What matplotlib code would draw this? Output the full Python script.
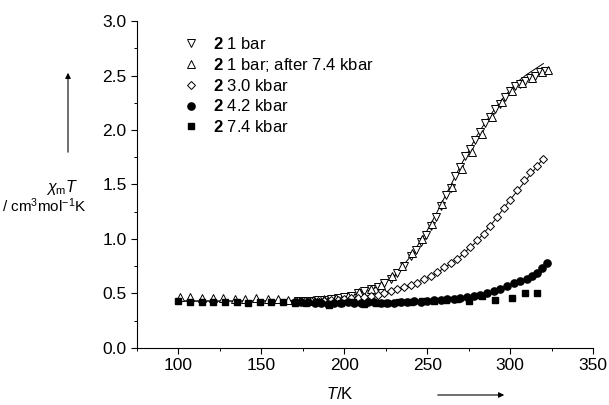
import matplotlib
matplotlib.use("Agg")
import matplotlib.pyplot as plt
from matplotlib.ticker import MultipleLocator

plt.rcParams['font.family'] = ['Liberation Sans', 'DejaVu Sans']
plt.rcParams['mathtext.fontset'] = 'custom'
plt.rcParams['mathtext.rm'] = 'Liberation Sans'
plt.rcParams['mathtext.it'] = 'Liberation Sans:italic'
plt.rcParams['mathtext.bf'] = 'Liberation Sans:bold'

# 2, 1 bar (cooling curve)
down_T = [172, 176, 180, 184, 188, 192, 196, 200, 204, 208, 212, 216, 220, 224, 228,
          232, 236, 240, 243, 246, 249, 252, 255, 258, 261, 264, 267, 270, 273, 276,
          279, 282, 285, 288, 291, 294, 297, 300, 303, 306, 309, 312, 315, 318, 321]
down_chi = [0.43, 0.43, 0.43, 0.44, 0.44, 0.45, 0.46, 0.47, 0.48, 0.50, 0.52, 0.54, 0.56, 0.60, 0.63,
            0.69, 0.75, 0.84, 0.90, 0.97, 1.04, 1.12, 1.20, 1.30, 1.40, 1.47, 1.58, 1.66, 1.76, 1.83,
            1.91, 1.98, 2.06, 2.12, 2.19, 2.24, 2.30, 2.36, 2.40, 2.42, 2.45, 2.48, 2.50, 2.53, 2.54]

# 2, 1 bar after 7.4 kbar
up_T = [101, 107, 114, 121, 127, 134, 140, 147, 154, 160, 166, 174, 181, 188, 195, 202, 209, 216,
        222, 229, 235, 241, 247, 253, 259, 265, 271, 277, 283, 289, 295, 301, 307, 313, 319, 323]
up_chi = [0.47, 0.47, 0.46, 0.46, 0.46, 0.45, 0.45, 0.46, 0.45, 0.45, 0.44, 0.43, 0.44, 0.45, 0.46,
          0.48, 0.51, 0.54, 0.58, 0.66, 0.75, 0.87, 1.00, 1.14, 1.32, 1.48, 1.64, 1.80, 1.96, 2.12,
          2.26, 2.36, 2.43, 2.48, 2.53, 2.55]

# 2, 3.0 kbar
dia_T = [172, 176, 180, 184, 188, 192, 196, 200, 204, 208, 212, 216, 220, 224, 228, 232, 236, 240, 244,
         248, 252, 256, 260, 264, 268, 272, 276, 280, 284, 288, 292, 296, 300, 304, 308, 312, 316, 320]
dia_chi = [0.43, 0.43, 0.43, 0.43, 0.43, 0.44, 0.44, 0.45, 0.46, 0.46, 0.47, 0.48, 0.49, 0.50, 0.52,
           0.54, 0.56, 0.58, 0.60, 0.63, 0.66, 0.70, 0.74, 0.78, 0.82, 0.87, 0.93, 0.99, 1.05, 1.12,
           1.20, 1.28, 1.36, 1.45, 1.54, 1.61, 1.67, 1.73]

# 2, 4.2 kbar
cir_T = [170, 174, 178, 182, 186, 190, 194, 198, 202, 206, 210, 214, 218, 222, 226, 230, 234, 238, 242,
         246, 250, 254, 258, 262, 266, 270, 274, 278, 282, 286, 290, 294, 298, 302, 306, 310, 313, 316,
         319, 322]
cir_chi = [0.42, 0.42, 0.42, 0.41, 0.41, 0.40, 0.41, 0.41, 0.42, 0.41, 0.41, 0.42, 0.42, 0.41, 0.41,
           0.41, 0.42, 0.42, 0.43, 0.42, 0.43, 0.44, 0.44, 0.45, 0.45, 0.46, 0.47, 0.48, 0.49, 0.50,
           0.52, 0.54, 0.57, 0.60, 0.61, 0.63, 0.66, 0.69, 0.73, 0.78]

# 2, 7.4 kbar
sq_T = [100, 107, 114, 121, 128, 135, 142, 149, 156, 163, 170, 177, 184, 191, 198, 205, 212, 219, 226,
        233, 240, 247, 254, 261, 268, 275, 283, 291, 301, 309, 316]
sq_chi = [0.43, 0.42, 0.42, 0.42, 0.42, 0.42, 0.41, 0.42, 0.42, 0.42, 0.41, 0.41, 0.42, 0.39, 0.41,
          0.42, 0.40, 0.41, 0.41, 0.42, 0.42, 0.43, 0.43, 0.44, 0.45, 0.43, 0.48, 0.44, 0.46, 0.50, 0.50]

# fitted curves
fit1_T = [100, 150, 180, 200, 210, 220, 230, 240, 250, 255, 260, 265, 270, 275, 280, 285, 290,
          295, 300, 305, 310, 315, 320]
fit1_chi = [0.43, 0.43, 0.44, 0.47, 0.50, 0.56, 0.66, 0.84, 1.08, 1.22, 1.37, 1.52, 1.67, 1.81, 1.95,
            2.07, 2.18, 2.28, 2.37, 2.45, 2.51, 2.56, 2.61]
fit3_T = [100, 150, 180, 200, 220, 240, 250, 260, 270, 280, 290, 300, 310, 320]
fit3_chi = [0.43, 0.43, 0.43, 0.45, 0.49, 0.58, 0.64, 0.73, 0.84, 0.98, 1.16, 1.36, 1.55, 1.74]

fig = plt.figure(figsize=(6.09, 4.05), dpi=100)
ax = fig.add_axes([0.225, 0.141, 0.749, 0.807])

ax.plot(fit1_T, fit1_chi, color='black', lw=0.7, zorder=1)
ax.plot(fit3_T, fit3_chi, color='black', lw=0.7, zorder=1)

ax.plot(down_T, down_chi, 'v', mfc='white', mec='black', mew=0.7, ms=5.5, ls='none',
        label=r'$\mathbf{2}$ 1 bar')
ax.plot(up_T, up_chi, '^', mfc='white', mec='black', mew=0.7, ms=5.5, ls='none',
        label=r'$\mathbf{2}$ 1 bar; after 7.4 kbar')
ax.plot(dia_T, dia_chi, 'D', mfc='white', mec='black', mew=0.7, ms=4.2, ls='none',
        label=r'$\mathbf{2}$ 3.0 kbar')
ax.plot(cir_T, cir_chi, 'o', mfc='black', mec='black', ms=5.2, ls='none',
        label=r'$\mathbf{2}$ 4.2 kbar')
ax.plot(sq_T, sq_chi, 's', mfc='black', mec='black', ms=4.6, ls='none',
        label=r'$\mathbf{2}$ 7.4 kbar')

ax.set_xlim(75, 350)
ax.set_ylim(0, 3.0)
ax.set_xticks([100, 150, 200, 250, 300, 350])
ax.xaxis.set_minor_locator(MultipleLocator(25))
ax.yaxis.set_major_locator(MultipleLocator(0.5))
ax.yaxis.set_minor_locator(MultipleLocator(0.25))
ax.yaxis.set_major_formatter(plt.FuncFormatter(lambda v, p: f"{v:.1f}"))
ax.spines['top'].set_visible(False)
ax.spines['right'].set_visible(False)
for s in ('left', 'bottom'):
    ax.spines[s].set_linewidth(0.8)
ax.tick_params(which='major', direction='out', length=4, width=0.8, labelsize=12.5)
ax.tick_params(which='minor', direction='out', length=2.5, width=0.7)

leg = ax.legend(loc='upper left', bbox_to_anchor=(0.075, 0.99), frameon=False, fontsize=12,
                handlelength=1.0, handletextpad=0.8, labelspacing=0.25, borderaxespad=0.3)

# axis labels with arrows
fig.text(62 / 609, 1 - 188 / 405, r'$\chi_\mathrm{m}T$', ha='center', va='center', fontsize=11.5)
fig.text(44 / 609, 1 - 206 / 405, r'/ cm$^3$mol$^{-1}$K', ha='center', va='center', fontsize=11)
fig.text(340 / 609, 1 - 394 / 405, r'$T$/K', ha='center', va='center', fontsize=12)
fig.add_artist(matplotlib.patches.FancyArrowPatch(
    (68 / 609, 1 - 155 / 405), (68 / 609, 1 - 70 / 405), transform=fig.transFigure,
    arrowstyle='-|>', mutation_scale=8, lw=0.8, color='black'))
fig.add_artist(matplotlib.patches.FancyArrowPatch(
    (435 / 609, 1 - 395 / 405), (507 / 609, 1 - 395 / 405), transform=fig.transFigure,
    arrowstyle='-|>', mutation_scale=8, lw=0.8, color='black'))

fig.savefig('out.png', dpi=100)
